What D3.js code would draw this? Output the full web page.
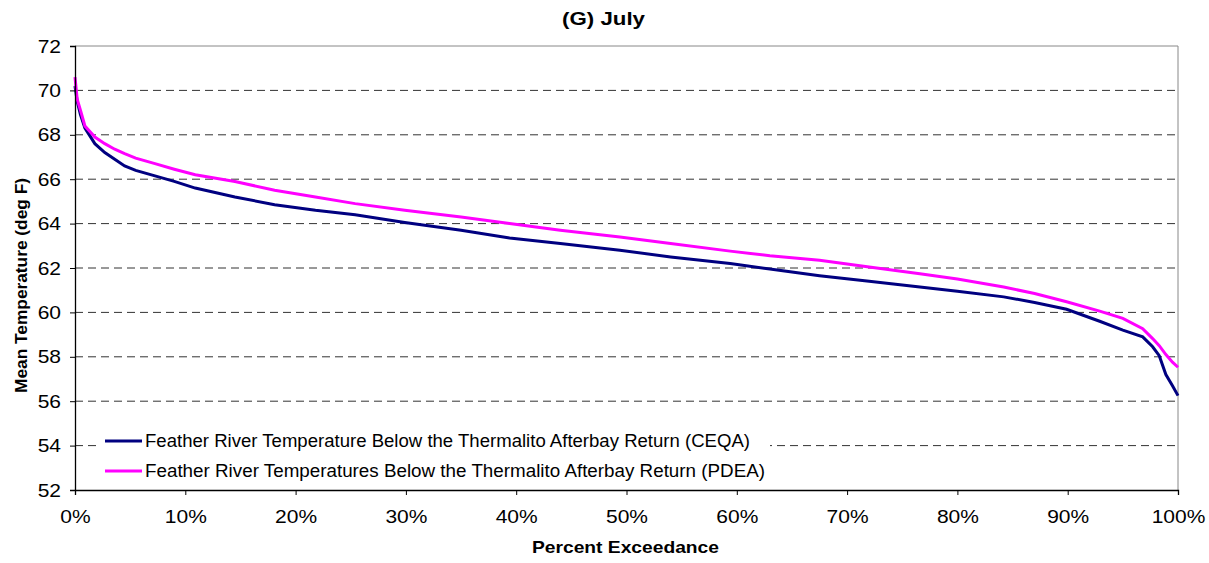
<!DOCTYPE html>
<html><head><meta charset="utf-8">
<script src="https://cdn.jsdelivr.net/npm/d3@7"></script>
<style>body{margin:0;background:#fff;} text{font-family:"Liberation Sans",Arial,sans-serif;}</style>
</head><body><svg id="c" width="1209" height="563"></svg>
<script>
const pct = [0,0.2,0.5,0.9,1.8,2.7,3.6,4.5,5.5,7.25,9,10.9,14.5,18.1,21.8,25.4,29.9,35,39.4,44,49.4,54,59.4,63,67.5,72,76.6,80,84.2,87,89.9,92.9,95,96.8,97.7,98.3,98.9,99.5,100];
const ceqa = [70.2,69.5,68.9,68.3,67.6,67.2,66.9,66.6,66.4,66.15,65.9,65.6,65.2,64.85,64.6,64.4,64.05,63.7,63.35,63.1,62.8,62.5,62.2,61.95,61.65,61.4,61.14,60.95,60.7,60.45,60.14,59.6,59.2,58.9,58.45,58.05,57.2,56.7,56.25];
const pdea = [70.6,69.6,69.1,68.4,67.9,67.6,67.35,67.15,66.95,66.7,66.45,66.2,65.9,65.5,65.2,64.9,64.6,64.3,64.0,63.7,63.4,63.1,62.76,62.55,62.35,62.05,61.74,61.5,61.14,60.85,60.48,60.06,59.73,59.27,58.82,58.5,58.1,57.76,57.53];
const yTicks = [52,54,56,58,60,62,64,66,68,70,72];
const xTicks = [0,10,20,30,40,50,60,70,80,90,100];
const seriesNames = ["Feather River Temperature Below the Thermalito Afterbay Return (CEQA)","Feather River Temperatures Below the Thermalito Afterbay Return (PDEA)"];
const seriesColors = ["#000080","#FF00FF"];
const title = "(G) July";

const svg = d3.select("#c");
const L=75,R=1178,T=46,B=490;
const x = d3.scaleLinear().domain([0,100]).range([L,R]);
const y = d3.scaleLinear().domain([52,72]).range([B,T]);
const SX = 1.2;

// gridlines
svg.append("g").selectAll("line").data(yTicks.filter(d=>d>52&&d<72)).join("line")
  .attr("x1",L).attr("x2",R).attr("y1",d=>y(d)).attr("y2",d=>y(d))
  .attr("stroke","#333").attr("stroke-width",1).attr("stroke-dasharray","8,5");
// top/right frame
svg.append("line").attr("x1",L).attr("x2",R).attr("y1",T).attr("y2",T).attr("stroke","#888");
svg.append("line").attr("x1",R).attr("x2",R).attr("y1",T).attr("y2",B).attr("stroke","#888");

// legend background
svg.append("rect").attr("x",100).attr("y",426).attr("width",670).attr("height",60).attr("fill","#fff");

// lines
const line = d3.line().x((d,i)=>x(pct[i])).y(d=>y(d));
[ceqa,pdea].forEach((s,k)=>{
  svg.append("path").datum(s).attr("d",line).attr("fill","none")
    .attr("stroke",seriesColors[k]).attr("stroke-width",3);
});

// axes
const yAxis = d3.axisLeft(y).tickValues(yTicks).tickSize(5).tickPadding(0).tickFormat(d3.format("d"));
const gy = svg.append("g").attr("transform",`translate(${L},0)`).call(yAxis);
const xAxis = d3.axisBottom(x).tickValues(xTicks).tickSize(5).tickPadding(0).tickFormat(d=>d+"%");
const gx = svg.append("g").attr("transform",`translate(0,${B})`).call(xAxis);
[gy,gx].forEach(g=>{
  g.select(".domain").attr("stroke","#000").attr("stroke-width",1.3);
  g.selectAll(".tick line").attr("stroke","#000");
  g.selectAll(".tick text").attr("font-size",17.5).attr("fill","#000").style("font-family","'Liberation Sans',Arial,sans-serif");
});
gy.selectAll(".tick text").attr("x",-14/SX).attr("dy","0.35em").attr("transform",`scale(${SX},1)`);
gx.selectAll(".tick text").attr("y",33).attr("dy",0).attr("transform",`scale(${SX},1)`);

// legend
const legendLen = [605,620];
seriesNames.forEach((n,k)=>{
  const yy = 441 + k*30;
  svg.append("line").attr("x1",105).attr("x2",142).attr("y1",yy).attr("y2",yy)
    .attr("stroke",seriesColors[k]).attr("stroke-width",3);
  svg.append("text").attr("x",145).attr("y",yy+6).attr("font-size",17.5)
    .attr("textLength",legendLen[k]).attr("lengthAdjust","spacingAndGlyphs").text(n);
});

// titles
svg.append("text").attr("x",562).attr("y",25).attr("font-size",18).attr("font-weight","bold")
  .attr("textLength",83).attr("lengthAdjust","spacingAndGlyphs").text(title);
svg.append("text").attr("x",532).attr("y",553).attr("font-size",17).attr("font-weight","bold")
  .attr("textLength",187).attr("lengthAdjust","spacingAndGlyphs").text("Percent Exceedance");
svg.append("text").attr("transform",`translate(27,393) rotate(-90)`).attr("font-size",16).attr("font-weight","bold")
  .attr("textLength",215).attr("lengthAdjust","spacingAndGlyphs").text("Mean Temperature (deg F)");
</script></body></html>
